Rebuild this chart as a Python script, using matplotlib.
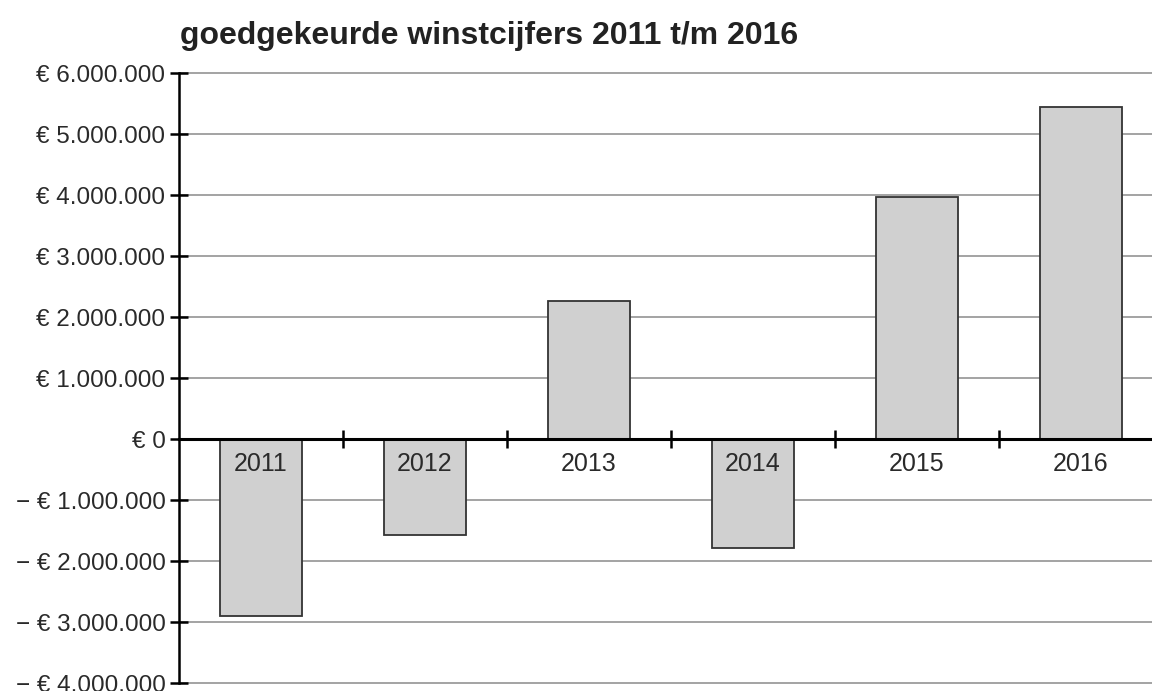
import matplotlib
matplotlib.use("Agg")
import matplotlib.pyplot as plt
from matplotlib.ticker import FuncFormatter, FixedLocator

# gegevens
jaren = ["2011", "2012", "2013", "2014", "2015", "2016"]
winst = [-2890000, -1575000, 2260000, -1780000, 3980000, 5450000]
y_ticks = [-4000000, -3000000, -2000000, -1000000, 0,
           1000000, 2000000, 3000000, 4000000, 5000000, 6000000]

plt.rcParams['font.family'] = ['Liberation Sans', 'DejaVu Sans']


def euro(v, pos=None):
    s = f"{abs(int(round(v))):,}".replace(",", ".")
    if v < 0:
        return "\u2212 \u20ac " + s
    return "\u20ac " + s


fig = plt.figure(figsize=(11.52, 6.91), dpi=100)
ax = fig.add_axes([0.1551, 0.00854, 0.8542, 0.8880])

x = list(range(len(jaren)))
ax.bar(x, winst, width=0.5, color="#d0d0d0", edgecolor="#333333",
       linewidth=1.3, zorder=3)

ax.set_xlim(-0.5, len(jaren) - 0.5)
ax.set_ylim(-4030000, 6030000)

# assen
for s in ["top", "right"]:
    ax.spines[s].set_visible(False)
ax.spines["left"].set_bounds(y_ticks[0], y_ticks[-1])
ax.spines["left"].set_linewidth(1.8)
ax.spines["bottom"].set_position(("data", 0))
ax.spines["bottom"].set_linewidth(2.2)
ax.spines["bottom"].set_zorder(4)

ax.yaxis.set_major_locator(FixedLocator(y_ticks))
ax.yaxis.set_major_formatter(FuncFormatter(euro))
ax.tick_params(axis="y", direction="inout", length=13, width=1.8,
               labelsize=17.5, labelcolor="#2a2a2a", pad=3)

ax.xaxis.set_major_locator(FixedLocator([i + 0.5 for i in x]))
ax.tick_params(axis="x", direction="inout", length=13, width=1.8,
               labelbottom=False)

ax.grid(axis="y", color="#8a8a8a", linewidth=1.1, zorder=0)
ax.set_axisbelow(True)

# jaartallen onder de nullijn
for i, j in zip(x, jaren):
    ax.annotate(j, xy=(i, 0), xytext=(0, -9.5), textcoords="offset points",
                ha="center", va="top", fontsize=18, color="#2a2a2a",
                zorder=5)

fig.text(180 / 1152, 1 - 43.7 / 691, "goedgekeurde winstcijfers 2011 t/m 2016",
         fontsize=23, fontweight="bold", color="#222222", va="baseline",
         ha="left")

fig.savefig("out.png", dpi=100)
